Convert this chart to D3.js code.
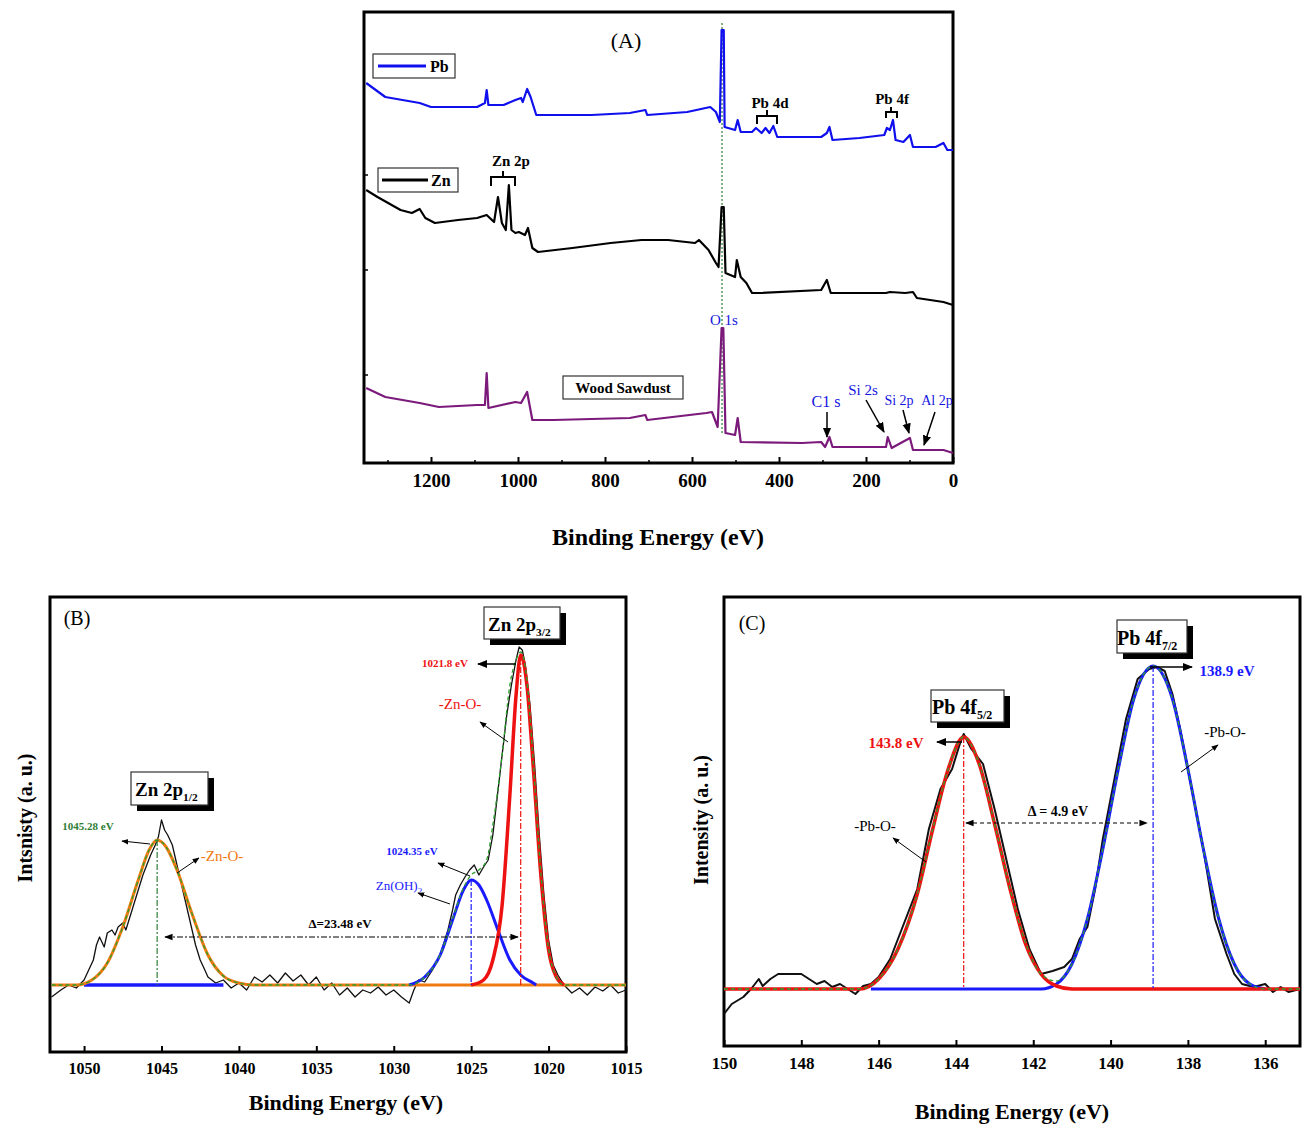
<!DOCTYPE html>
<html><head><meta charset="utf-8">
<script src="https://cdn.jsdelivr.net/npm/d3@7"></script>
<style>body{margin:0;background:#fff}text{font-family:"Liberation Serif",serif}</style>
</head><body>
<svg id="c" width="1314" height="1133"></svg>
<script>
// ---------- Panel A data: [binding energy eV, intensity a.u.] ----------
const surveyPb = [[1349,380],[1305,366],[1226,360],[1200,356],[1094,356],[1076,360],[1072,373],[1068,358],[1033,358],[1006,363],[993,365],[989,361],[979,374],[971,366],[958,348],[919,348],[831,348],[743,350],[707,353],[703,348],[611,351],[558,356],[545,351],[536,341],[532,433],[527,433],[525,336],[501,333],[495,343],[488,331],[462,331],[453,335],[440,330],[431,335],[422,330],[413,337],[404,326],[303,326],[290,330],[284,336],[277,323],[215,325],[158,328],[152,335],[145,333],[138,343],[132,323],[114,321],[99,328],[92,316],[40,316],[22,320],[13,313],[0,313]];
const surveyZn = [[1349,273],[1323,266],[1270,253],[1244,250],[1226,254],[1213,245],[1191,240],[1138,243],[1094,245],[1072,248],[1055,241],[1046,266],[1037,240],[1028,233],[1021,278],[1015,233],[1006,230],[998,231],[984,228],[977,235],[967,215],[954,211],[875,215],[787,220],[716,223],[655,223],[593,220],[584,223],[562,213],[545,200],[539,196],[535,230],[532,256],[527,256],[523,190],[501,186],[497,203],[488,186],[475,180],[462,170],[444,170],[303,173],[290,183],[281,170],[154,170],[145,171],[110,170],[92,171],[83,165],[22,161],[0,158]];
const surveyWood = [[1349,75],[1305,66],[1226,60],[1182,56],[1094,58],[1076,58],[1072,90],[1068,55],[1006,61],[993,60],[979,71],[967,43],[919,43],[743,45],[707,48],[703,43],[567,50],[554,51],[541,36],[532,135],[528,135],[523,30],[501,28],[495,45],[488,21],[347,20],[303,21],[294,16],[284,26],[277,16],[154,16],[150,26],[141,15],[99,25],[92,13],[22,13],[0,10]];
const ticksA = [1200,1000,800,600,400,200,0];

// ---------- Panel B data (Zn 2p) ----------
const znRaw = [[1052.1,-12],[1051.5,-5],[1051,0],[1050.5,-3],[1050,5],[1049.7,15],[1049.4,25],[1049.2,40],[1049,48],[1048.7,38],[1048.5,52],[1048.2,55],[1048,50],[1047.8,58],[1047.5,62],[1047.3,55],[1047,70],[1046.8,80],[1046.5,95],[1046.2,110],[1046,118],[1045.7,130],[1045.4,140],[1045.2,148],[1045,165],[1044.8,155],[1044.6,150],[1044.3,140],[1044,120],[1043.7,100],[1043.4,80],[1043.1,60],[1042.8,40],[1042.5,25],[1042.2,15],[1042,8],[1041.5,2],[1041,5],[1040.5,-3],[1040,2],[1039.5,-5],[1039,8],[1038.5,3],[1038,10],[1037.5,2],[1037,12],[1036.5,4],[1036,10],[1035.5,0],[1035,8],[1034.5,-5],[1034,2],[1033.5,-10],[1033,-3],[1032.5,-12],[1032,-5],[1031.5,-8],[1031,-2],[1030.5,-10],[1030,-5],[1029.5,-12],[1029,-18],[1028.7,-5],[1028.4,5],[1028,3],[1027.5,15],[1027,30],[1026.5,55],[1026.2,75],[1026,90],[1025.7,100],[1025.4,108],[1025.1,115],[1024.8,120],[1024.5,110],[1024.2,118],[1023.9,125],[1023.6,150],[1023.3,190],[1023,230],[1022.7,270],[1022.4,300],[1022.1,325],[1021.9,338],[1021.7,335],[1021.5,320],[1021.2,280],[1020.9,220],[1020.6,150],[1020.3,90],[1020,45],[1019.7,20],[1019.4,10],[1019,0],[1018.5,-8],[1018,-3],[1017.5,-10],[1017,-2],[1016.5,-6],[1016,0],[1015.5,-8],[1015,-5]];
const znOrange = [[1052.1,0],[1050.5,0],[1049.5,5],[1048.5,22],[1047.5,58],[1046.5,105],[1045.8,135],[1045.28,145],[1044.7,138],[1044,115],[1043,70],[1042,30],[1041,9],[1040,2],[1039,0],[1015,0]];
const znRed = [[1025,0],[1024.2,5],[1023.6,25],[1023,80],[1022.5,190],[1022.1,290],[1021.8,330],[1021.4,300],[1021,220],[1020.5,110],[1020,35],[1019.5,8],[1019,0]];
const znBlue = [[1029,0],[1028,8],[1027,30],[1026.2,65],[1025.5,95],[1025,105],[1024.5,100],[1024,85],[1023.2,52],[1022.5,25],[1021.8,10],[1021,2],[1020.8,0]];
const znBlueBase = [[1050,0],[1041,0]];
const znEnv = [[1052.1,0],[1050.5,0],[1049.5,5],[1048.5,22],[1047.5,58],[1046.5,105],[1045.8,135],[1045.28,145],[1044.7,138],[1044,115],[1043,70],[1042,30],[1041,9],[1040,2],[1039,0],[1029,0],[1028,8],[1027,30],[1026.2,66],[1025.5,97],[1025,110],[1024.5,115],[1024,125],[1023.6,160],[1023,230],[1022.5,300],[1022.1,325],[1021.8,333],[1021.4,305],[1021,225],[1020.5,112],[1020,36],[1019.5,8],[1019,0],[1015,0]];
const ticksB = [1050,1045,1040,1035,1030,1025,1020,1015];

// ---------- Panel C data (Pb 4f) ----------
const pbRaw = [[150,-25],[149.8,-15],[149.5,-8],[149.3,0],[149.1,10],[149,3],[148.8,10],[148.6,15],[148.4,15],[148,15],[147.8,10],[147.6,5],[147.4,8],[147.2,2],[147,5],[146.8,0],[146.6,-5],[146.4,3],[146.2,5],[146,12],[145.7,30],[145.4,60],[145.2,80],[145,100],[144.7,160],[144.4,200],[144.1,220],[143.9,245],[143.8,255],[143.6,240],[143.3,225],[143,180],[142.7,130],[142.4,80],[142.1,40],[141.8,15],[141.5,18],[141.2,22],[141,30],[140.8,50],[140.6,62],[140.4,100],[140.2,150],[139.9,210],[139.6,270],[139.3,310],[139,320],[138.8,322],[138.6,318],[138.4,295],[138.2,260],[137.9,200],[137.6,140],[137.3,70],[137,35],[136.8,15],[136.6,5],[136.3,2],[136,5],[135.8,-3],[135.6,2],[135.4,-3],[135.1,0]];
const pbRed = [[150,0],[146.5,0],[146,10],[145.5,40],[145,95],[144.6,160],[144.2,220],[143.8,252],[143.4,225],[143,165],[142.6,100],[142.2,45],[141.8,15],[141.4,3],[141,0],[135.1,0]];
const pbBlue = [[146.2,0],[141.8,0],[141.4,5],[141,25],[140.6,70],[140.2,140],[139.8,220],[139.4,290],[138.9,323],[138.4,290],[138,220],[137.6,140],[137.2,70],[136.8,25],[136.4,5],[136,0]];
const pbEnv = [[150,0],[146.5,0],[146,10],[145.5,40],[145,95],[144.6,160],[144.2,220],[143.8,252],[143.4,225],[143,165],[142.6,100],[142.2,46],[141.8,15],[141.4,8],[141,25],[140.6,70],[140.2,140],[139.8,220],[139.4,290],[138.9,323],[138.4,290],[138,220],[137.6,140],[137.2,70],[136.8,25],[136.4,5],[136,0],[135.1,0]];
const ticksC = [150,148,146,144,142,140,138,136];

const svg = d3.select("#c");
svg.append("defs").append("marker").attr("id","ar").attr("viewBox","0 0 10 10").attr("refX",9).attr("refY",5)
  .attr("markerWidth",7).attr("markerHeight",7).attr("orient","auto-start-reverse")
  .append("path").attr("d","M0,1L10,5L0,9z").attr("fill","#000");

function panel(o){
  const x = d3.scaleLinear().domain(o.xd).range([o.l,o.r]);
  const y = d3.scaleLinear().domain(o.yd).range([o.b,o.t]);
  const g = svg.append("g");
  const ax = g.append("g").attr("transform",`translate(0,${o.b})`)
    .call(d3.axisBottom(x).tickValues(o.ticks).tickSize(-6).tickPadding(11).tickFormat(d3.format("d")));
  ax.select(".domain").remove();
  ax.selectAll("line").attr("stroke","#000").attr("stroke-width",2);
  ax.selectAll("text").attr("font-size",o.fs).attr("font-weight","bold").attr("font-family","Liberation Serif");
  if(o.minor){
    const m = g.append("g").attr("transform",`translate(0,${o.b})`)
      .call(d3.axisBottom(x).tickValues(o.minor).tickSize(-3).tickFormat(""));
    m.select(".domain").remove(); m.selectAll("line").attr("stroke-width",1.5);
  }
  if(o.yt){ o.yt.forEach(v=>g.append("line").attr("x1",o.l).attr("x2",o.l+4).attr("y1",y(v)).attr("y2",y(v)).attr("stroke","#000").attr("stroke-width",1.5)); }
  g.append("rect").attr("x",o.l).attr("y",o.t).attr("width",o.r-o.l).attr("height",o.b-o.t)
    .attr("fill","none").attr("stroke","#000").attr("stroke-width",3);
  return {x,y,g};
}
const line = (p,d,c,w,dash,curve)=>p.g.append("path").attr("d",d3.line().x(d=>p.x(d[0])).y(d=>p.y(d[1])).curve(curve||d3.curveLinear)(d))
  .attr("fill","none").attr("stroke",c).attr("stroke-width",w).attr("stroke-dasharray",dash||null).attr("stroke-linejoin","round");
const txt = (x,y,s,o={})=>svg.append("text").attr("x",x).attr("y",y).attr("text-anchor",o.a||"middle")
  .attr("font-size",o.fs||14).attr("font-weight",o.w||"bold").attr("fill",o.c||"#000").text(s);
const arrow = (x1,y1,x2,y2,w)=>svg.append("line").attr("x1",x1).attr("y1",y1).attr("x2",x2).attr("y2",y2)
  .attr("stroke","#000").attr("stroke-width",w||1).attr("marker-end","url(#ar)");
function box(x,y,w,h,shadow){
  if(shadow) svg.append("rect").attr("x",x+6).attr("y",y+6).attr("width",w).attr("height",h).attr("fill","#000");
  svg.append("rect").attr("x",x).attr("y",y).attr("width",w).attr("height",h).attr("fill","#fff").attr("stroke","#333").attr("stroke-width",1.2);
}
function sub(x,y,main,s,fs){
  const t = svg.append("text").attr("x",x).attr("y",y).attr("font-size",fs).attr("font-weight","bold");
  t.append("tspan").text(main);
  t.append("tspan").attr("font-size",fs*0.6).attr("dy",5).text(s);
}

// ===== Panel A =====
const A = panel({xd:[1354,0],yd:[0,451],l:364,r:953,t:12,b:463,ticks:ticksA,minor:[1300,1100,900,700,500,300,100],fs:19,yt:[88,193,288]});
line(A,[[531,30],[531,440]],"#2e7d32",1.2,"2,2");
line(A,surveyWood,"#7b1a7b",2.2);
line(A,surveyZn,"#000",2.2);
line(A,surveyPb,"#1010ee",2.2);
txt(626,48,"(A)",{fs:22,w:"normal"});
box(373,54,82,24); svg.append("line").attr("x1",378).attr("x2",426).attr("y1",66).attr("y2",66).attr("stroke","#1010ee").attr("stroke-width",3);
txt(430,72,"Pb",{a:"start",fs:16});
box(378,168,80,24); svg.append("line").attr("x1",382).attr("x2",428).attr("y1",180).attr("y2",180).attr("stroke","#000").attr("stroke-width",3);
txt(431,186,"Zn",{a:"start",fs:16});
box(563,376,120,23); txt(623,393,"Wood Sawdust",{fs:15});
txt(770,108,"Pb 4d",{fs:15}); svg.append("path").attr("d","M757,124V116H777V124M767,116V110").attr("fill","none").attr("stroke","#000").attr("stroke-width",2);
txt(892,104,"Pb 4f",{fs:15}); svg.append("path").attr("d","M886,118V112H897V118M891,112V107").attr("fill","none").attr("stroke","#000").attr("stroke-width",2);
txt(511,166,"Zn 2p",{fs:15}); svg.append("path").attr("d","M491,186V177H515V186M503,177V171").attr("fill","none").attr("stroke","#000").attr("stroke-width",2);
txt(724,325,"O 1s",{fs:15,w:"normal",c:"#1515e0"});
txt(826,407,"C1 s",{fs:16,w:"normal",c:"#1515e0"});
txt(863,395,"Si 2s",{fs:15,w:"normal",c:"#1515e0"});
txt(899,405,"Si 2p",{fs:14,w:"normal",c:"#1515e0"});
txt(937,405,"Al 2p",{fs:14,w:"normal",c:"#1515e0"});
arrow(827,412,827,437,1.5); arrow(866,400,884,432,1.5); arrow(903,410,909,433,1.5); arrow(935,412,924,445,1.5);
txt(658,545,"Binding Energy (eV)",{fs:24});

// ===== Panel B =====
const B = panel({xd:[1052.2,1015],yd:[-67,388],l:50,r:626,t:597,b:1052,ticks:ticksB,fs:16});
line(B,znRaw,"#111",1.3);
line(B,znBlueBase,"#1a1aff",3.5);
line(B,znOrange,"#f07a10",3,null,d3.curveMonotoneX);
line(B,znBlue,"#1a1aff",3,null,d3.curveMonotoneX);
line(B,znRed,"#ee1111",3.5,null,d3.curveMonotoneX);
line(B,znEnv,"#2ca02c",1.3,"4,3",d3.curveMonotoneX);
line(B,[[1045.28,145],[1045.28,0]],"#2e7d32",1.2,"6,2,2,2");
line(B,[[1025.0,105],[1025.0,0]],"#1a1aff",1.2,"6,2,2,2");
line(B,[[1021.8,330],[1021.8,0]],"#ee1111",1.2,"6,2,2,2");
svg.append("line").attr("x1",165).attr("x2",518).attr("y1",937).attr("y2",937).attr("stroke","#000").attr("stroke-width",1.2)
  .attr("stroke-dasharray","6,2,2,2").attr("marker-end","url(#ar)").attr("marker-start","url(#ar)");
txt(340,928,"\u0394=23.48 eV",{fs:13});
txt(77,625,"(B)",{fs:20,w:"normal"});
box(484,607,76,32,true); sub(488,631,"Zn  2p","3/2",19);
box(131,772,77,33,true); sub(135,796,"Zn  2p","1/2",19);
txt(445,667,"1021.8 eV",{fs:11,c:"#ee1111"}); arrow(516,664,478,664,1.5);
txt(460,709,"-Zn-O-",{fs:15,w:"normal",c:"#ee1111"}); arrow(508,742,480,722,1);
txt(88,830,"1045.28 eV",{fs:11,c:"#2e7d32"}); arrow(150,844,122,841,1);
txt(222,861,"-Zn-O-",{fs:15,w:"normal",c:"#f07a10"}); arrow(177,873,199,858,1);
txt(412,855,"1024.35 eV",{fs:11,c:"#1a1aff"}); arrow(470,876,438,863,1);
svg.append("text").attr("x",399).attr("y",890).attr("text-anchor","middle").attr("font-size",13).attr("fill","#1a1aff")
  .call(t=>{t.append("tspan").text("Zn(OH)");t.append("tspan").attr("font-size",9).attr("dy",4).text("2");});
arrow(450,904,418,893,1);
txt(346,1110,"Binding Energy (eV)",{fs:22});
svg.append("text").attr("transform","translate(32,818) rotate(-90)").attr("text-anchor","middle").attr("font-size",20).attr("font-weight","bold").text("Intsnisty (a. u.)");

// ===== Panel C =====
const C = panel({xd:[150,135.1],yd:[-57,392],l:724,r:1300,t:597,b:1046,ticks:ticksC,fs:17});
line(C,pbRaw,"#111",2);
line(C,pbBlue,"#1a1aff",3,null,d3.curveMonotoneX);
line(C,pbRed,"#ee1111",3.5,null,d3.curveMonotoneX);
line(C,pbEnv,"#2ca02c",1.3,"4,3",d3.curveMonotoneX);
line(C,[[143.8,252],[143.8,0]],"#ee1111",1.2,"6,2,2,2");
line(C,[[138.9,323],[138.9,0]],"#1a1aff",1.2,"6,2,2,2");
svg.append("line").attr("x1",966).attr("x2",1147).attr("y1",823).attr("y2",823).attr("stroke","#000").attr("stroke-width",1.2)
  .attr("stroke-dasharray","4,3").attr("marker-end","url(#ar)").attr("marker-start","url(#ar)");
txt(1058,816,"\u0394 = 4.9 eV",{fs:14});
txt(752,630,"(C)",{fs:20,w:"normal"});
box(1117,620,70,33,true); sub(1117,645,"Pb 4f","7/2",20);
box(931,690,73,32,true); sub(932,714,"Pb 4f","5/2",20);
txt(896,748,"143.8 eV",{fs:15,c:"#ee1111"}); arrow(962,742,937,742,1.5);
txt(1227,676,"138.9 eV",{fs:15,c:"#1a1aff"}); arrow(1150,667,1192,667,1.5);
txt(875,831,"-Pb-O-",{fs:15,w:"normal"}); arrow(926,862,893,838,1);
txt(1225,737,"-Pb-O-",{fs:15,w:"normal"}); arrow(1181,772,1218,745,1);
txt(1012,1119,"Binding Energy (eV)",{fs:22});
svg.append("text").attr("transform","translate(708,820) rotate(-90)").attr("text-anchor","middle").attr("font-size",20).attr("font-weight","bold").text("Intensity (a. u.)");
</script>
</body></html>
